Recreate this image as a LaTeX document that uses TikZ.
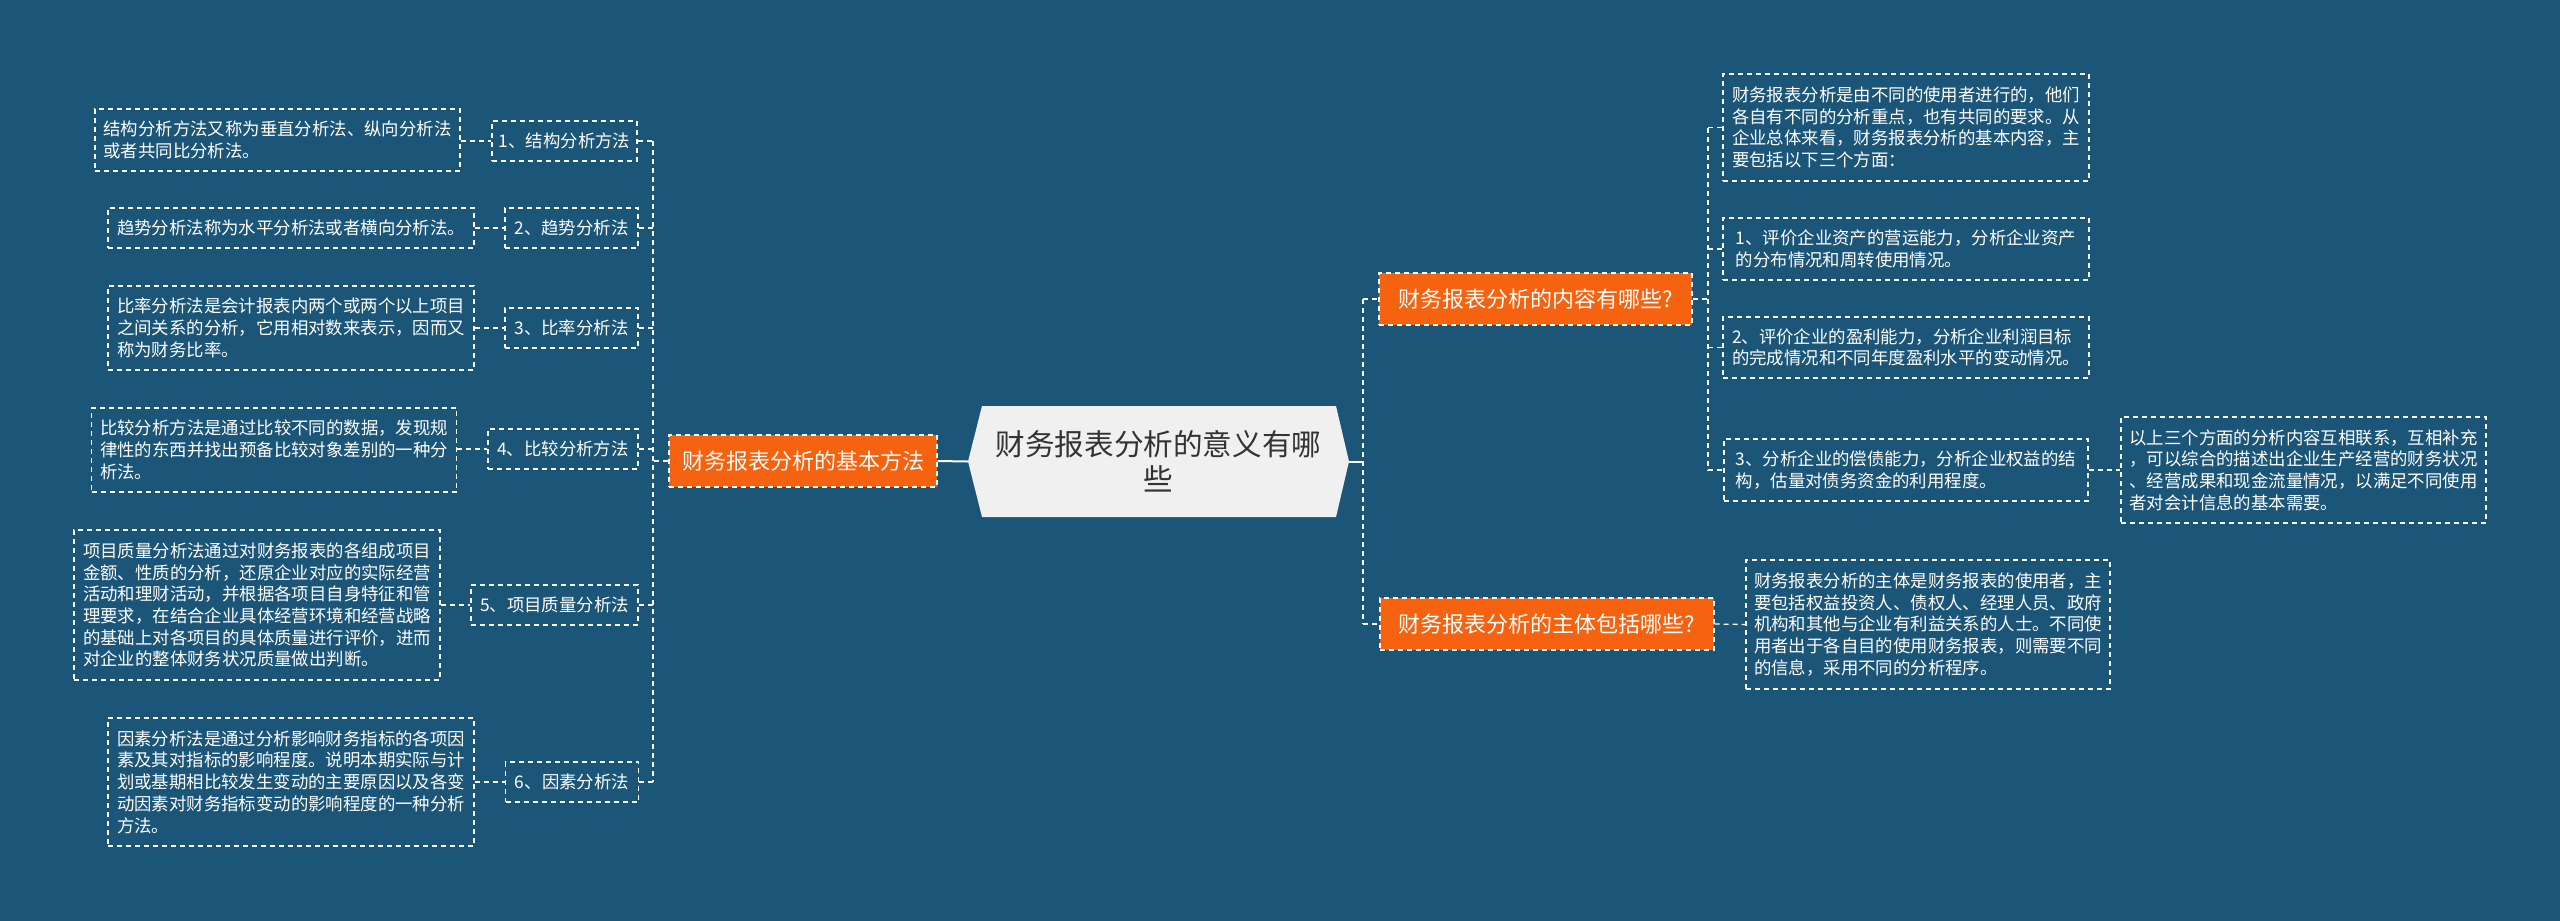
\documentclass[tikz,border=0pt]{standalone}
\usepackage{fontspec}
\newfontfamily\cjk{Noto Sans CJK SC}
\usetikzlibrary{calc}
\definecolor{bg}{RGB}{27,85,120}
\definecolor{org}{RGB}{245,98,16}
\definecolor{cfill}{RGB}{240,240,240}
\definecolor{ctext}{RGB}{51,51,51}
\tikzset{
  conn/.style={draw=white, line width=1.3pt, dash pattern=on 5pt off 4pt},
  solidconn/.style={draw=white, line width=2pt},
  txtbox/.style={conn, align=left, text=white, font=\cjk\fontsize{17.4pt}{21.7pt}\selectfont, inner sep=0pt},
  lbl/.style={conn, text=white, font=\cjk\fontsize{17.4pt}{21.7pt}\selectfont, inner sep=0pt, minimum height=40pt},
  orng/.style={conn, fill=org, text=white, font=\cjk\fontsize{22pt}{26pt}\selectfont, inner sep=0pt, minimum height=52pt},
  ctr/.style={align=center, text=ctext, font=\cjk\fontsize{29.6pt}{35pt}\selectfont, inner sep=0pt, minimum width=381pt, minimum height=111pt}
}
\begin{document}
\begin{tikzpicture}[x=1pt, y=-1pt]
\useasboundingbox (0,0) rectangle (2560,921);
\fill[bg] (0,0) rectangle (2560,921);

% center
\fill[cfill] (968,461.5) -- (982,406) -- (1336,406) -- (1349,461.5) -- (1336,517) -- (982,517) -- cycle;
\node[ctr] (C) at (1158.5,461.5) {财务报表分析的意义有哪\\些};

% left branch
\node[orng, minimum width=268pt] (OL) at (803,461) {财务报表分析的基本方法};
\coordinate (ltrunk) at (653,0);

\node[lbl, minimum width=145pt] (L1) at (564.5,141) {1、结构分析方法};
\node[lbl, minimum width=133pt] (L2) at (571.5,228) {2、趋势分析法};
\node[lbl, minimum width=133pt] (L3) at (571.5,328) {3、比率分析法};
\node[lbl, minimum width=150pt] (L4) at (563,449) {4、比较分析方法};
\node[lbl, minimum width=167pt] (L5) at (554.5,605) {5、项目质量分析法};
\node[lbl, minimum width=133pt] (L6) at (572,782) {6、因素分析法};

\node[txtbox, minimum width=365pt, minimum height=62pt] (T1) at (277.5,140) {结构分析方法又称为垂直分析法、纵向分析法\\或者共同比分析法。};
\node[txtbox, minimum width=366pt, minimum height=40pt] (T2) at (291,228) {趋势分析法称为水平分析法或者横向分析法。};
\node[txtbox, minimum width=366pt, minimum height=84pt] (T3) at (291,328) {比率分析法是会计报表内两个或两个以上项目\\之间关系的分析，它用相对数来表示，因而又\\称为财务比率。};
\node[txtbox, minimum width=365pt, minimum height=84pt] (T4) at (274,450) {比较分析方法是通过比较不同的数据，发现规\\律性的东西并找出预备比较对象差别的一种分\\析法。};
\node[txtbox, minimum width=366pt, minimum height=150pt] (T5) at (257,605) {项目质量分析法通过对财务报表的各组成项目\\金额、性质的分析，还原企业对应的实际经营\\活动和理财活动，并根据各项目自身特征和管\\理要求，在结合企业具体经营环境和经营战略\\的基础上对各项目的具体质量进行评价，进而\\对企业的整体财务状况质量做出判断。};
\node[txtbox, minimum width=366pt, minimum height=128pt] (T6) at (291,782) {因素分析法是通过分析影响财务指标的各项因\\素及其对指标的影响程度。说明本期实际与计\\划或基期相比较发生变动的主要原因以及各变\\动因素对财务指标变动的影响程度的一种分析\\方法。};

\draw[solidconn] (OL.east) -- (C.west);
\draw[conn] (OL.west) -- (OL.west -| ltrunk);
\draw[conn] (L1.east -| ltrunk) -- (L6.east -| ltrunk);
\foreach \i in {1,...,6} {
  \draw[conn] (L\i.east) -- (L\i.east -| ltrunk);
  \draw[conn] (T\i.east |- L\i.west) -- (L\i.west);
}

% right branch
\coordinate (rtrunk) at (1363,0);
\coordinate (strunk) at (1708,0);
\node[orng, minimum width=313pt] (O1) at (1535.5,299) {财务报表分析的内容有哪些?};
\node[orng, minimum width=334pt] (O2) at (1547,624) {财务报表分析的主体包括哪些?};

\node[txtbox, minimum width=366pt, minimum height=107pt] (R1) at (1906,127.5) {财务报表分析是由不同的使用者进行的，他们\\各自有不同的分析重点，也有共同的要求。从\\企业总体来看，财务报表分析的基本内容，主\\要包括以下三个方面：};
\node[txtbox, minimum width=366pt, minimum height=62pt] (R2) at (1906,249) {1、评价企业资产的营运能力，分析企业资产\\的分布情况和周转使用情况。};
\node[txtbox, minimum width=366pt, minimum height=61pt] (R3) at (1906,347.5) {2、评价企业的盈利能力，分析企业利润目标\\的完成情况和不同年度盈利水平的变动情况。};
\node[txtbox, minimum width=364pt, minimum height=62pt] (R4) at (1906,470) {3、分析企业的偿债能力，分析企业权益的结\\构，估量对债务资金的利用程度。};
\node[txtbox, minimum width=365pt, minimum height=106pt] (R5) at (2303.5,470) {以上三个方面的分析内容互相联系，互相补充\\，可以综合的描述出企业生产经营的财务状况\\、经营成果和现金流量情况，以满足不同使用\\者对会计信息的基本需要。};
\node[txtbox, minimum width=364pt, minimum height=129pt] (R6) at (1928,624.5) {财务报表分析的主体是财务报表的使用者，主\\要包括权益投资人、债权人、经理人员、政府\\机构和其他与企业有利益关系的人士。不同使\\用者出于各自目的使用财务报表，则需要不同\\的信息，采用不同的分析程序。};

\draw[solidconn] (C.east) -- (C.east -| rtrunk);
\draw[conn] (O1.west -| rtrunk) -- (O2.west -| rtrunk);
\draw[conn] (O1.west -| rtrunk) -- (O1.west);
\draw[conn] (O2.west -| rtrunk) -- (O2.west);
\draw[conn] (O1.east) -- (O1.east -| strunk);
\draw[conn] (R1.west -| strunk) -- (R4.west -| strunk);
\foreach \i in {1,...,4} {
  \draw[conn] (R\i.west -| strunk) -- (R\i.west);
}
\draw[conn] (R4.east) -- (R5.west);
\draw[conn] (O2.east) -- (R6.west);
\end{tikzpicture}
\end{document}
